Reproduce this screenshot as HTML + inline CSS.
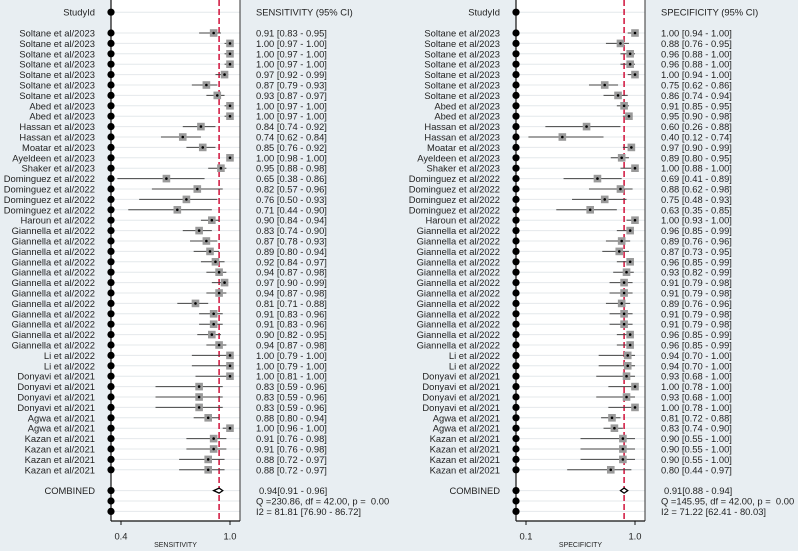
<!DOCTYPE html>
<html><head><meta charset="utf-8"><style>
html,body{margin:0;padding:0;background:#e8eef2;}
svg{display:block;font-family:"Liberation Sans",sans-serif;}
svg text{white-space:pre;}
</style></head><body>
<svg id="chart" width="798" height="551" viewBox="0 0 798 551"></svg>
<script>
const studies=["Soltane et al/2023","Soltane et al/2023","Soltane et al/2023","Soltane et al/2023","Soltane et al/2023","Soltane et al/2023","Soltane et al/2023","Abed et al/2023","Abed et al/2023","Hassan et al/2023","Hassan et al/2023","Moatar et al/2023","Ayeldeen et al/2023","Shaker et al/2023","Dominguez et al/2022","Dominguez et al/2022","Dominguez et al/2022","Dominguez et al/2022","Haroun et al/2022","Giannella et al/2022","Giannella et al/2022","Giannella et al/2022","Giannella et al/2022","Giannella et al/2022","Giannella et al/2022","Giannella et al/2022","Giannella et al/2022","Giannella et al/2022","Giannella et al/2022","Giannella et al/2022","Giannella et al/2022","Li et al/2022","Li et al/2022","Donyavi et al/2021","Donyavi et al/2021","Donyavi et al/2021","Donyavi et al/2021","Agwa et al/2021","Agwa et al/2021","Kazan et al/2021","Kazan et al/2021","Kazan et al/2021","Kazan et al/2021"];
const sensEst=[0.91,1.00,1.00,1.00,0.97,0.87,0.93,1.00,1.00,0.84,0.74,0.85,1.00,0.95,0.65,0.82,0.76,0.71,0.90,0.83,0.87,0.89,0.92,0.94,0.97,0.94,0.81,0.91,0.91,0.90,0.94,1.00,1.00,1.00,0.83,0.83,0.83,0.88,1.00,0.91,0.91,0.88,0.88];
const sensLo=[0.83,0.97,0.97,0.97,0.92,0.79,0.87,0.97,0.97,0.74,0.62,0.76,0.98,0.88,0.38,0.57,0.50,0.44,0.84,0.74,0.78,0.80,0.84,0.87,0.90,0.87,0.71,0.83,0.83,0.82,0.87,0.79,0.79,0.81,0.59,0.59,0.59,0.80,0.96,0.76,0.76,0.72,0.72];
const sensHi=[0.95,1.00,1.00,1.00,0.99,0.93,0.97,1.00,1.00,0.92,0.84,0.92,1.00,0.98,0.86,0.96,0.93,0.90,0.94,0.90,0.93,0.94,0.97,0.98,0.99,0.98,0.88,0.96,0.96,0.95,0.98,1.00,1.00,1.00,0.96,0.96,0.96,0.94,1.00,0.98,0.98,0.97,0.97];
const specEst=[1.00,0.88,0.96,0.96,1.00,0.75,0.86,0.91,0.95,0.60,0.40,0.97,0.89,1.00,0.69,0.88,0.75,0.63,1.00,0.96,0.89,0.87,0.96,0.93,0.91,0.91,0.89,0.91,0.91,0.96,0.96,0.94,0.94,0.93,1.00,0.93,1.00,0.81,0.83,0.90,0.90,0.90,0.80];
const specLo=[0.94,0.76,0.88,0.88,0.94,0.62,0.74,0.85,0.90,0.26,0.12,0.90,0.80,0.88,0.41,0.62,0.48,0.35,0.93,0.85,0.76,0.73,0.85,0.82,0.79,0.79,0.76,0.79,0.79,0.85,0.85,0.70,0.70,0.68,0.78,0.68,0.78,0.72,0.74,0.55,0.55,0.55,0.44];
const specHi=[1.00,0.95,1.00,1.00,1.00,0.86,0.94,0.95,0.98,0.88,0.74,0.99,0.95,1.00,0.89,0.98,0.93,0.85,1.00,0.99,0.96,0.95,0.99,0.99,0.98,0.98,0.96,0.98,0.98,0.99,0.99,1.00,1.00,1.00,1.00,1.00,1.00,0.88,0.90,1.00,1.00,1.00,0.97];
const sensPooled=[0.94,0.91,0.96];
const specPooled=[0.91,0.88,0.94];
const sensTicks=[0.4,1.0];
const specTicks=[0.1,1.0];
const sensStats=["Q =230.86, df = 42.00, p =  0.00","I2 = 81.81 [76.90 - 86.72]"];
const specStats=["Q =145.95, df = 42.00, p =  0.00","I2 = 71.22 [62.41 - 80.03]"];

const NS="http://www.w3.org/2000/svg";
const svg=document.getElementById('chart');
const FS=9.4;
function mk(tag,attrs,parent){const e=document.createElementNS(NS,tag);for(const k in attrs)e.setAttribute(k,attrs[k]);(parent||svg).appendChild(e);return e;}
function rowY(i){return 33+i*10.4;}
const headerY=12.2, combY=rowY(44), qY=rowY(45), iY=rowY(46);
const f2=v=>v.toFixed(2);

function panel(cfg){
  const g=mk('g',{});
  
  
  const sx=v=>cfg.x0+(v-cfg.vmin)/(cfg.vmax-cfg.vmin)*(cfg.x1-cfg.x0);
  const bg=mk('rect',{x:cfg.axisX,y:0,width:cfg.right-cfg.axisX,height:521,fill:'#fff'},g);
  
  
  const rows=[headerY];for(let i=0;i<studies.length;i++)rows.push(rowY(i));rows.push(combY,qY,iY);
  rows.forEach(y=>mk('line',{x1:cfg.axisX,x2:cfg.right,y1:y,y2:y,stroke:'#e4e8eb','stroke-width':1},g));
  const dl=mk('line',{x1:sx(cfg.pooled[0]),x2:sx(cfg.pooled[0]),y1:0,y2:521,stroke:'#d0103a','stroke-width':1.5,'stroke-dasharray':'6,3'},g);
  
  
  const h=mk('text',{x:cfg.labelX,y:headerY,'text-anchor':'end','dominant-baseline':'central','font-size':FS,fill:'#222'},g);h.textContent='StudyId';
  
  const h2=mk('text',{x:cfg.textX,y:headerY,'dominant-baseline':'central','font-size':FS,fill:'#222'},g);h2.textContent=cfg.title+' (95% CI)';
  
  for(let i=0;i<studies.length;i++){
    const y=rowY(i),e=cfg.est[i],lo=cfg.lo[i],hi=cfg.hi[i];
    const lab=mk('text',{x:cfg.labelX,y:y,'text-anchor':'end','dominant-baseline':'central','font-size':FS,fill:'#222'},g);lab.textContent=studies[i];
    
    const ci=mk('line',{x1:sx(lo),x2:sx(hi),y1:y,y2:y,stroke:'#444','stroke-width':1},g);
    
    const sq=mk('rect',{x:sx(e)-3.8,y:y-3.8,width:7.6,height:7.6,fill:'#9a9a9a'},g);
    
    const pt=mk('circle',{cx:sx(e),cy:y,r:1.3,fill:'#000'},g);
    
    const t=mk('text',{x:cfg.textX,y:y,'dominant-baseline':'central','font-size':FS,fill:'#222'},g);t.textContent=f2(e)+' ['+f2(lo)+' - '+f2(hi)+']';
    
  }
  const cl=mk('text',{x:cfg.labelX,y:combY,'text-anchor':'end','dominant-baseline':'central','font-size':FS,fill:'#222'},g);cl.textContent='COMBINED';
  
  const p=cfg.pooled;
  const d=mk('polygon',{points:`${sx(p[1])},${combY} ${sx(p[0])},${combY-2.5} ${sx(p[2])},${combY} ${sx(p[0])},${combY+2.5}`,fill:'#fff',stroke:'#000','stroke-width':1.3},g);
  
  const ct=mk('text',{x:cfg.textX+3,y:combY,'dominant-baseline':'central','font-size':FS,fill:'#222'},g);ct.textContent=f2(p[0])+'['+f2(p[1])+' - '+f2(p[2])+']';
  
  [[qY,cfg.stats[0]],[iY,cfg.stats[1]]].forEach(([y,s],k)=>{
    const t=mk('text',{x:cfg.textX,y:y,'dominant-baseline':'central','font-size':FS,fill:'#222'},g);t.textContent=s;
    
  });
  mk('line',{x1:cfg.axisX,x2:cfg.axisX,y1:0,y2:521,stroke:'#111','stroke-width':1.2},g);
  mk('line',{x1:cfg.right,x2:cfg.right,y1:0,y2:521,stroke:'#333','stroke-width':1},g);
  mk('line',{x1:cfg.axisX,x2:cfg.right,y1:521,y2:521,stroke:'#111','stroke-width':1.2},g);
  rows.forEach(y=>{const c=mk('circle',{cx:cfg.axisX,cy:y,r:3.6,fill:'#000'},g);
    });
  cfg.ticks.forEach(v=>{
    mk('line',{x1:sx(v),x2:sx(v),y1:521,y2:525,stroke:'#111','stroke-width':1},g);
    const t=mk('text',{x:sx(v),y:536,'text-anchor':'middle','dominant-baseline':'central','font-size':FS,fill:'#222'},g);t.textContent=v.toFixed(1);
    
  });
  const at=mk('text',{x:(cfg.axisX+cfg.right)/2,y:545.5,'text-anchor':'middle','dominant-baseline':'central','font-size':7,fill:'#222'},g);at.textContent=cfg.title;
  
}
panel({name:'sens',title:'SENSITIVITY',axisX:111,right:240,x0:121,x1:230,vmin:sensTicks[0],vmax:sensTicks[1],labelX:95,textX:256,est:sensEst,lo:sensLo,hi:sensHi,pooled:sensPooled,stats:sensStats,ticks:sensTicks});
panel({name:'spec',title:'SPECIFICITY',axisX:516,right:645,x0:526,x1:635,vmin:specTicks[0],vmax:specTicks[1],labelX:500,textX:661,est:specEst,lo:specLo,hi:specHi,pooled:specPooled,stats:specStats,ticks:specTicks});
</script>
</body></html>
